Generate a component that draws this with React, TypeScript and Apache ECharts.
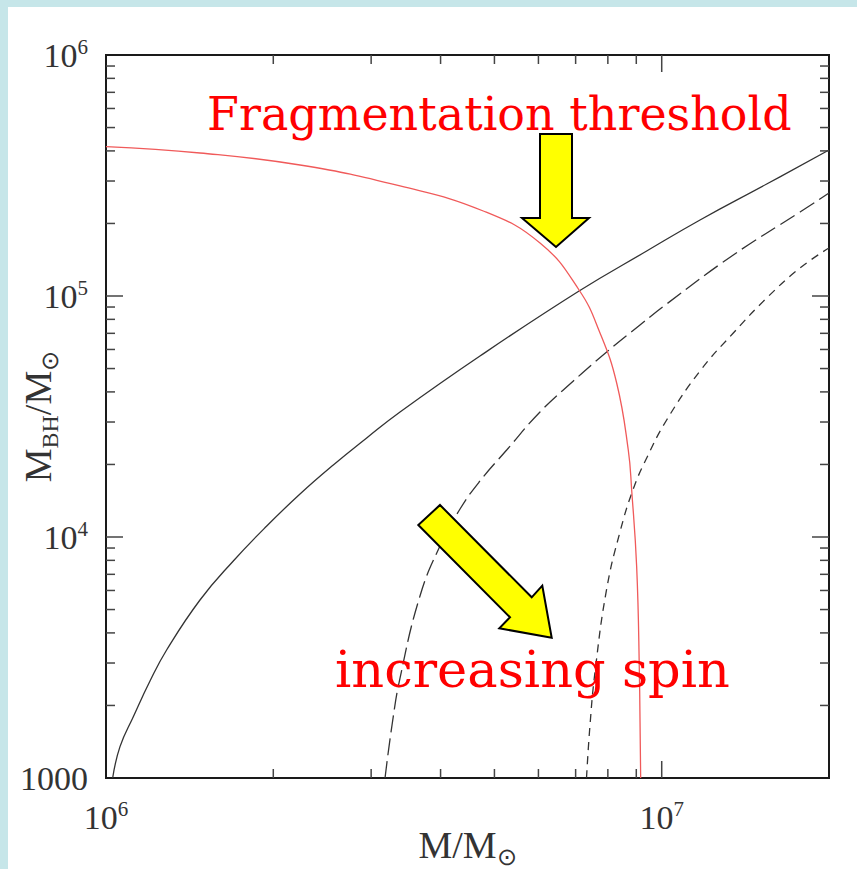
import React, { useEffect, useRef } from "react";
import * as echarts from "echarts";

// ---- data ----
const solidM = [1.028e6, 1.0597e6, 1.1198e6, 1.2e6, 1.2855e6, 1.4761e6, 1.6947e6, 1.9464e6, 2.2342e6, 2.5645e6, 2.9451e6, 3.3813e6, 4.7093e6, 7.1e6, 9.397e6, 11.72e6, 15.45e6, 2.0e7];
const solidBH = [1000, 1349, 1796, 2526, 3397, 5478, 7952, 11106, 15083, 19897, 25757, 33020, 56370, 104880, 153700, 206800, 291500, 403500];

const longDashM = [3.1777e6, 3.2713e6, 3.3813e6, 3.6729e6, 3.9902e6, 4.3357e6, 4.7093e6, 5.2603e6, 6.0392e6, 6.9343e6, 7.9608e6, 9.1388e6, 10.207e6, 13.454e6, 17.738e6, 2.0e7];
const longDashBH = [1000, 1659, 2599, 5691, 9177, 13068, 17078, 22961, 33020, 44390, 58570, 75800, 92650, 148000, 223100, 267600];

const shortDashM = [7.3227e6, 7.4297e6, 7.5852e6, 7.9608e6, 8.4118e6, 8.8884e6, 9.397e6, 10.207e6, 11.72e6, 13.454e6, 15.45e6, 17.738e6, 2.0e7];
const shortDashBH = [1000, 1659, 2754, 6085, 10488, 15820, 21270, 30590, 48850, 70220, 98100, 130700, 158200];

const fragM = [1e6, 1.4761e6, 2.2342e6, 3.3813e6, 4.7739e6, 6.0392e6, 7.1e6, 7.7441e6, 8.2974e6, 8.7064e6, 8.8296e6, 9.0145e6, 9.1122e6, 9.165e6];
const fragBH = [416500, 392100, 349600, 286100, 225300, 165900, 105900, 70220, 43550, 22961, 15670, 7508, 2888, 1000];

const xMajorTicks = [1e7];
const xMinorTicks = [2e6, 3e6, 4e6, 5e6, 6e6, 7e6, 8e6, 9e6];
const yMajorTicks = [1e4, 1e5];
const yMinorTicks = [
  2e3, 3e3, 4e3, 5e3, 6e3, 7e3, 8e3, 9e3,
  2e4, 3e4, 4e4, 5e4, 6e4, 7e4, 8e4, 9e4,
  2e5, 3e5, 4e5, 5e5, 6e5, 7e5, 8e5, 9e5,
];

const X_MIN = 1e6;
const X_MAX = 2e7;
const Y_MIN = 1000;
const Y_MAX = 1e6;

const labelText = "Fragmentation threshold";
const spinText = "increasing spin";

const SERIF = "Liberation Serif";
const INK = "#333";

function pairs(xs: number[], ys: number[]) {
  return xs.map((x, i) => [x, ys[i]]);
}

function powLabel(v: number, plainThousand: boolean) {
  const l = Math.log10(v);
  const r = Math.round(l);
  if (Math.abs(l - r) > 1e-6) return "";
  if (plainThousand && r === 3) return "{b|1000}";
  return `{b|10}{s|${r}}`;
}

export default function App() {
  const ref = useRef<HTMLDivElement>(null);

  useEffect(() => {
    if (!ref.current) return;
    const chart = echarts.init(ref.current, undefined, { renderer: "svg" });

    const MAJ = 17;
    const MIN = 9;
    const tickData: number[][] = [];
    xMajorTicks.forEach((v) => { tickData.push([v, Y_MIN, 0, MAJ]); tickData.push([v, Y_MAX, 1, MAJ]); });
    xMinorTicks.forEach((v) => { tickData.push([v, Y_MIN, 0, MIN]); tickData.push([v, Y_MAX, 1, MIN]); });
    yMajorTicks.forEach((v) => { tickData.push([X_MIN, v, 2, MAJ]); tickData.push([X_MAX, v, 3, MAJ]); });
    yMinorTicks.forEach((v) => { tickData.push([X_MIN, v, 2, MIN]); tickData.push([X_MAX, v, 3, MIN]); });

    const rich = {
      b: { fontFamily: SERIF, fontSize: 34, color: INK, lineHeight: 38 },
      s: { fontFamily: SERIF, fontSize: 21, color: INK, verticalAlign: "top", lineHeight: 21 },
    };
    const nameRich = {
      m: { fontFamily: SERIF, fontSize: 38, color: INK, lineHeight: 48 },
      sub: { fontFamily: SERIF, fontSize: 24, color: INK, verticalAlign: "bottom", lineHeight: 24 },
    };

    const lineCommon = {
      type: "line",
      showSymbol: false,
      symbol: "none",
      smooth: 0.45,
      silent: true,
      z: 3,
    };

    chart.setOption({
      animation: false,
      backgroundColor: "transparent",
      grid: {
        left: 106,
        right: 28,
        top: 55,
        bottom: 91,
        containLabel: false,
        outerBoundsMode: "none",
        show: true,
        borderColor: "#1a1a1a",
        borderWidth: 2,
        backgroundColor: "transparent",
      },
      xAxis: {
        type: "log",
        logBase: 10,
        min: X_MIN,
        max: X_MAX,
        axisLine: { show: false },
        axisTick: { show: false },
        splitLine: { show: false },
        axisLabel: {
          margin: 20,
          formatter: (v: number) => powLabel(v, false),
          rich,
          showMinLabel: true,
          showMaxLabel: true,
          hideOverlap: false,
        },
        name: "{m|M/M}{sub|⊙}",
        nameLocation: "middle",
        nameGap: 43,
        nameMoveOverlap: false,
        nameTextStyle: { rich: nameRich },
      },
      yAxis: {
        type: "log",
        logBase: 10,
        min: Y_MIN,
        max: Y_MAX,
        axisLine: { show: false },
        axisTick: { show: false },
        splitLine: { show: false },
        axisLabel: {
          margin: 18,
          formatter: (v: number) => powLabel(v, true),
          rich,
          showMinLabel: true,
          showMaxLabel: true,
          hideOverlap: false,
        },
        name: "{m|M}{sub|BH}{m|/M}{sub|⊙}",
        nameLocation: "middle",
        nameRotate: 90,
        nameGap: 44,
        nameMoveOverlap: false,
        nameTextStyle: { rich: nameRich },
      },
      series: [
        {
          ...lineCommon,
          name: "a0",
          data: pairs(solidM, solidBH),
          lineStyle: { color: "#333", width: 1.3, type: "solid" },
        },
        {
          ...lineCommon,
          name: "a1",
          data: pairs(longDashM, longDashBH),
          lineStyle: { color: "#333", width: 1.3, type: [17, 6] },
        },
        {
          ...lineCommon,
          name: "a2",
          data: pairs(shortDashM, shortDashBH),
          lineStyle: { color: "#333", width: 1.3, type: [8, 6] },
        },
        {
          ...lineCommon,
          name: "frag",
          data: pairs(fragM, fragBH),
          lineStyle: { color: "#f05a5a", width: 1.3, type: "solid" },
        },
        {
          type: "custom",
          name: "ticks",
          coordinateSystem: "cartesian2d",
          silent: true,
          clip: false,
          z: 4,
          data: tickData,
          renderItem: (_params: any, api: any) => {
            const x = api.value(0);
            const y = api.value(1);
            const side = api.value(2);
            const len = api.value(3);
            const p = api.coord([x, y]);
            let dx = 0;
            let dy = 0;
            if (side === 0) dy = -len;
            else if (side === 1) dy = len;
            else if (side === 2) dx = len;
            else dx = -len;
            return {
              type: "line",
              shape: { x1: p[0], y1: p[1], x2: p[0] + dx, y2: p[1] + dy },
              style: { stroke: "#444", lineWidth: 1.5 },
            };
          },
        },
      ],
      graphic: [
        {
          type: "text",
          x: 207,
          y: 114,
          z: 100,
          style: {
            text: labelText,
            fontFamily: "DejaVu Serif",
            fontSize: 46,
            fill: "#ff0000",
            align: "left",
            verticalAlign: "middle",
          },
        },
        {
          type: "text",
          x: 335,
          y: 669,
          z: 100,
          style: {
            text: spinText,
            fontFamily: "DejaVu Serif",
            fontSize: 51,
            fill: "#ff0000",
            align: "left",
            verticalAlign: "middle",
          },
        },
        {
          type: "polygon",
          z: 100,
          shape: {
            points: [
              [540, 134], [572, 134], [572, 218], [589, 218], [556, 247], [522, 218], [540, 218],
            ],
          },
          style: { fill: "#ffff00", stroke: "#000", lineWidth: 2 },
        },
        {
          type: "polygon",
          z: 100,
          shape: {
            points: [
              [440, 505], [531.7, 597.3], [542.3, 585.7], [551.7, 637.7], [499.3, 628.3], [510, 617.3], [418.3, 525],
            ],
          },
          style: { fill: "#ffff00", stroke: "#000", lineWidth: 2 },
        },
      ],
    });

    return () => chart.dispose();
  }, []);

  return (
    <div style={{ position: "fixed", left: 0, top: 0, width: 857, height: 869, background: "#c6e6e9", overflow: "hidden" }}>
      <div style={{ position: "absolute", left: 8, top: 7, right: 0, bottom: 0, background: "#ffffff" }} />
      <div ref={ref} style={{ position: "absolute", left: 0, top: 0, width: 857, height: 869 }} />
    </div>
  );
}
